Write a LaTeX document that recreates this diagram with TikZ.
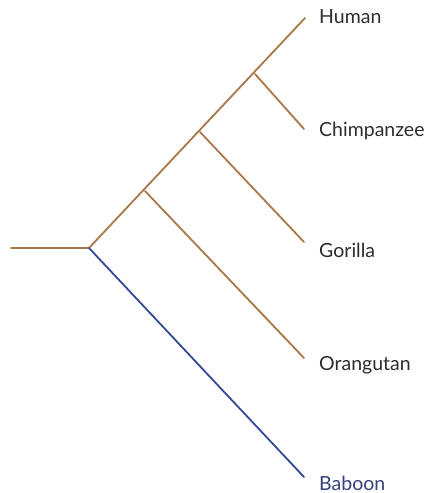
\documentclass[tikz,border=0pt]{standalone}
\usepackage{fontspec}
\setmainfont{Lato}
\definecolor{brownline}{RGB}{170,120,72}
\definecolor{blueline}{RGB}{52,74,150}
\definecolor{labelgray}{RGB}{45,45,45}
\definecolor{labelblue}{RGB}{55,65,125}
\begin{document}
\begin{tikzpicture}[x=1pt,y=-1pt,
  brownbranch/.style={draw=brownline,line width=1.8pt,line cap=round},
  bluebranch/.style={draw=blueline,line width=1.8pt,line cap=round},
  taxon/.style={anchor=west,inner sep=0pt,font=\fontsize{19.5}{22}\selectfont,text=labelgray}]
\useasboundingbox (0,0) rectangle (432,493);
\fill[white] (0,0) rectangle (432,493);
\coordinate (start) at (11,248);
\coordinate (root) at (89,248);
\coordinate (n1) at (145,191);
\coordinate (n2) at (200,132);
\coordinate (n3) at (255,74);
\coordinate (hum) at (305,18);
\coordinate (chi) at (304,129);
\coordinate (gor) at (304,242);
\coordinate (ora) at (304,358);
\coordinate (bab) at (304,477);
\node[taxon] (lhum) at (319,17) {Human};
\node[taxon] (lchi) at (319,131) {Chimpanzee};
\node[taxon] (lgor) at (319,250) {Gorilla};
\node[taxon] (lora) at (319,365) {Orangutan};
\node[taxon,text=labelblue] (lbab) at (319,483) {Baboon};
\draw[brownbranch] (start) -- (root) -- (hum);
\draw[brownbranch] (n1) -- (ora);
\draw[brownbranch] (n2) -- (gor);
\draw[brownbranch] (n3) -- (chi);
\draw[bluebranch] (root) -- (bab);
\end{tikzpicture}
\end{document}
